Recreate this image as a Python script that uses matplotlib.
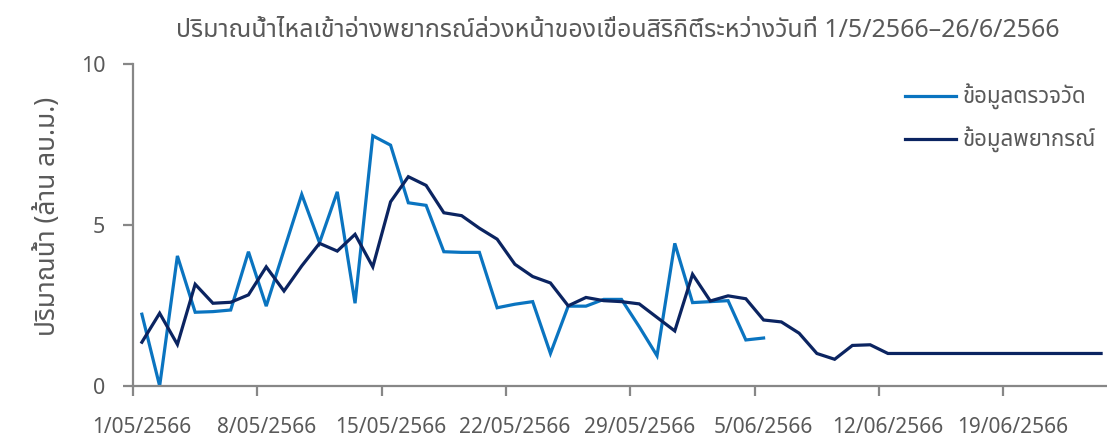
import matplotlib
matplotlib.use("Agg")
import matplotlib.pyplot as plt
from matplotlib import font_manager
from matplotlib.ft2font import FT2Font

# data (million m3), one value per day starting 1/05/2566
measured = [2.23, 0.0, 4.04, 2.29, 2.31, 2.36, 4.17, 2.48, 4.22, 5.95,
            4.45, 6.03, 2.57, 7.77, 7.48, 5.69, 5.61, 4.17, 4.15, 4.15,
            2.43, 2.54, 2.62, 1.01, 2.48, 2.48, 2.69, 2.69, 1.84, 0.94,
            4.43, 2.59, 2.62, 2.65, 1.43, 1.49]
forecast = [1.36, 2.26, 1.29, 3.16, 2.57, 2.60, 2.83, 3.70, 2.95, 3.73,
            4.43, 4.19, 4.71, 3.70, 5.72, 6.50, 6.23, 5.38, 5.29, 4.90,
            4.56, 3.78, 3.40, 3.20, 2.49, 2.75, 2.65, 2.62, 2.55, 2.13,
            1.71, 3.47, 2.64, 2.80, 2.71, 2.05, 1.99, 1.64, 1.01, 0.83,
            1.26, 1.28, 1.01, 1.01, 1.01, 1.01, 1.01, 1.01, 1.01, 1.01,
            1.01, 1.01, 1.01, 1.01, 1.01]
n_days = 57
tick_days = [0, 7, 14, 21, 28, 35, 42, 49]
tick_labels = ["1/05/2566", "8/05/2566", "15/05/2566", "22/05/2566",
               "29/05/2566", "5/06/2566", "12/06/2566", "19/06/2566"]
series_names = ["ข้อมูลตรวจวัด", "ข้อมูลพยากรณ์"]
title = "ปริมาณน้ำไหลเข้าอ่างพยากรณ์ล่วงหน้าของเขื่อนสิริกิติ์ระหว่างวันที่ 1/5/2566–26/6/2566"
ylabel = "ปริมาณน้ำ (ล้าน ลบ.ม.)"

# pick a thai font, loopless one if it is there
thai = []
for f in font_manager.fontManager.ttflist:
    try:
        if 0x0E01 in FT2Font(f.fname).get_charmap():
            thai.append(f.name)
    except Exception:
        pass
thai_font = 'Noto Sans Thai' if 'Noto Sans Thai' in thai else (sorted(thai) + ['DejaVu Sans'])[0]
plt.rcParams['font.family'] = [thai_font, 'Open Sans', 'DejaVu Sans']

grey = '#595959'
axis_grey = '#878787'

fig = plt.figure(figsize=(11.07, 4.41), dpi=100)
ax = fig.add_axes([133/1107, 55/441, 1012.5/1107, 322/441])

ax.plot(range(len(measured)), measured, color='#0A74C0', lw=2.3,
        solid_joinstyle='miter', label=series_names[0])
ax.plot(range(len(forecast)), forecast, color='#0B2461', lw=2.3,
        solid_joinstyle='miter', label=series_names[1])

ax.set_xlim(-0.5, n_days - 0.5)
ax.set_ylim(0, 10)
for s in ['top', 'right']:
    ax.spines[s].set_visible(False)
for s in ['left', 'bottom']:
    ax.spines[s].set_color(axis_grey)
    ax.spines[s].set_linewidth(1.6)

ax.set_yticks([0, 5, 10])
ax.tick_params(axis='y', length=7, width=1.6, color=axis_grey,
               labelcolor=grey, labelsize=15.5, pad=13)
# tick marks between days, labels under the day
ax.set_xticks([d - 0.5 for d in tick_days])
ax.set_xticklabels([])
ax.tick_params(axis='x', which='major', length=7, width=1.6, color=axis_grey)
ax.set_xticks(tick_days, minor=True)
ax.set_xticklabels(tick_labels, minor=True)
ax.tick_params(axis='x', which='minor', length=0, labelcolor=grey,
               labelsize=15, pad=22)

fig.text(0.558, 0.93, title, ha='center', va='center', fontsize=18,
         color=grey, fontweight='light')
fig.text(0.043, 0.51, ylabel, ha='center', va='center', rotation=90,
         fontsize=19, color=grey, fontweight='light')

ax.legend(loc='upper left', bbox_to_anchor=(905/1107, 1 - 84/441),
          bbox_transform=fig.transFigure, frameon=False, fontsize=16,
          handlelength=2.3, handletextpad=0.3, labelspacing=0.75,
          labelcolor=grey, borderpad=0, borderaxespad=0)

fig.savefig("out.png", dpi=100)
